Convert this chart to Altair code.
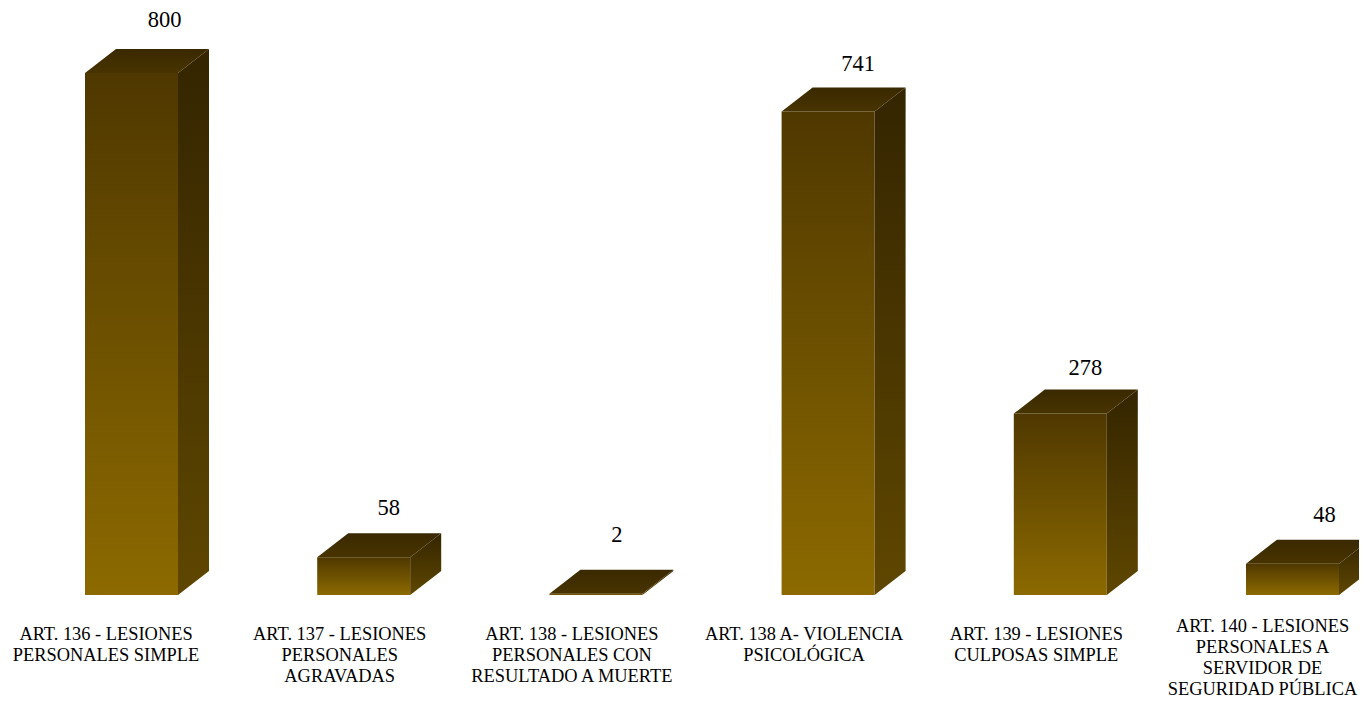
import altair as alt
import pandas as pd

categories = [
    "ART. 136 - LESIONES\nPERSONALES SIMPLE",
    "ART. 137 - LESIONES\nPERSONALES\nAGRAVADAS",
    "ART. 138 - LESIONES\nPERSONALES CON\nRESULTADO A MUERTE",
    "ART. 138 A- VIOLENCIA\nPSICOLÓGICA",
    "ART. 139 - LESIONES\nCULPOSAS SIMPLE",
    "ART. 140 - LESIONES\nPERSONALES A\nSERVIDOR DE\nSEGURIDAD PÚBLICA",
]
values = [800, 58, 2, 741, 278, 48]
# label nudges relative to each bar, in pixels
label_dx_px = [33, 25, 21, 30, 25, 32]
label_dy_px = [53, 49, 59, 47, 46, 49]
cat_dx_px = [-25.5, -24, -24, -24, -24, -30]
cat_up_px = [0, 0, 0, 0, 0, 8]

W, H = 1351, 690
STEP = 232.2           # px per category
PX_PER_UNIT = 0.6525   # px per value unit
X0_PX, Y0_PX = 123.5, 587
xdom = [-X0_PX / STEP, (W - X0_PX) / STEP]
ydom = [-(H - Y0_PX) / PX_PER_UNIT, Y0_PX / PX_PER_UNIT]
HALF = 46.5 / STEP
DX = 31 / STEP
DY = 24 / PX_PER_UNIT

x_s = alt.Scale(domain=xdom, nice=False, zero=False)
y_s = alt.Scale(domain=ydom, nice=False, zero=False)
X = lambda f: alt.X(f, type="quantitative", scale=x_s, axis=None)
Y = lambda f: alt.Y(f, type="quantitative", scale=y_s, axis=None)


def grad(top, bottom):
    return alt.Gradient(
        gradient="linear", x1=0, y1=0, x2=0, y2=1,
        stops=[alt.GradientStop(color=top, offset=0),
               alt.GradientStop(color=bottom, offset=1)],
    )


front = pd.DataFrame({
    "i": range(6), "v": values,
    "x1": [i - HALF for i in range(6)], "x2": [i + HALF for i in range(6)], "zero": 0,
})
side_rows, top_rows = [], []
for i, v in enumerate(values):
    r = i + HALF
    side_rows += [dict(i=i, x=r, y=v, y2=0), dict(i=i, x=r + DX, y=v + DY, y2=DY)]
    top_rows += [dict(i=i, y=v, x=i - HALF, x2=r), dict(i=i, y=v + DY, x=i - HALF + DX, x2=r + DX)]
side = pd.DataFrame(side_rows)
top = pd.DataFrame(top_rows)

labels = pd.DataFrame({
    "t": [str(v) for v in values],
    "x": [i + d / STEP for i, d in enumerate(label_dx_px)],
    "y": [v + d / PX_PER_UNIT for v, d in zip(values, label_dy_px)],
})
cats = pd.DataFrame({
    "t": categories,
    "x": [i + d / STEP for i, d in enumerate(cat_dx_px)],
    "y": [-(624.5 - u - 595) / PX_PER_UNIT for u in cat_up_px],
})

front_l = alt.Chart(front).mark_rect(color=grad("#4f3800", "#8c6a00")).encode(
    x=X("x1"), x2="x2", y=Y("zero"), y2="v")
side_l = alt.Chart(side).mark_area(color=grad("#342500", "#5f4700"), interpolate="linear").encode(
    x=X("x"), y=Y("y"), y2="y2", detail="i:N")
top_l = alt.Chart(top).mark_area(color=grad("#3a2900", "#483400"), orient="horizontal", interpolate="linear").encode(
    y=Y("y"), x=X("x"), x2="x2", detail="i:N")
val_l = alt.Chart(labels).mark_text(font="Liberation Serif", fontSize=22.5, color="#000000", baseline="middle").encode(
    x=X("x"), y=Y("y"), text="t:N")
cat_l = alt.Chart(cats).mark_text(font="Liberation Serif", fontSize=18.4, color="#000000", baseline="top",
                                  align="center", lineBreak="\n", lineHeight=21).encode(
    x=X("x"), y=Y("y"), text="t:N")

chart = (front_l + side_l + top_l + val_l + cat_l).properties(
    width=W, height=H, padding=0, background="white",
    autosize=alt.AutoSizeParams(type="none"),
).configure_view(stroke=None)

chart.save("out.html", embed_options={"renderer": "svg", "actions": False})
